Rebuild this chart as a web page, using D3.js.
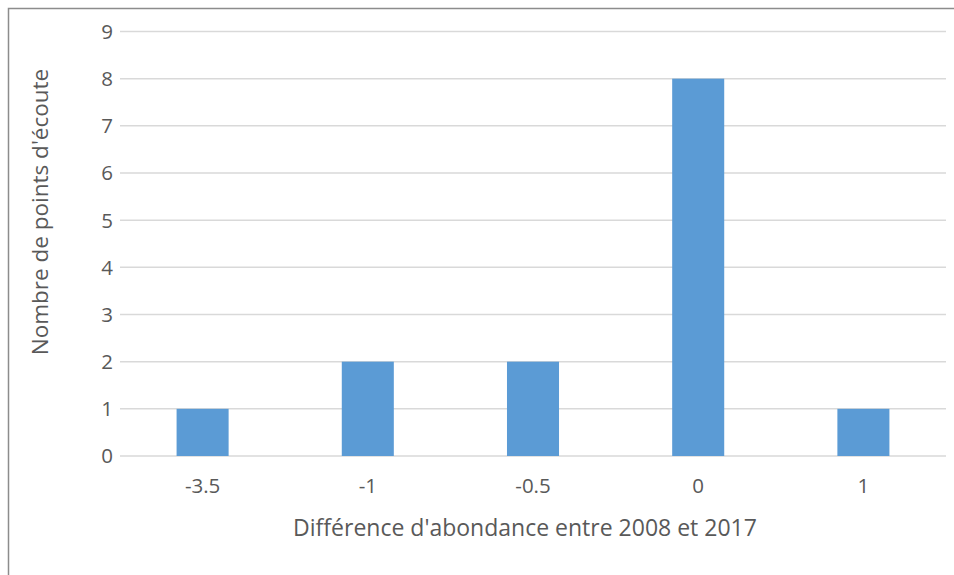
<!DOCTYPE html>
<html><head><meta charset="utf-8">
<script src="https://cdn.jsdelivr.net/npm/d3@7"></script>
<style>body{margin:0;background:#fff;}svg{display:block;}</style>
</head><body>
<script>
const categories = ["-3.5","-1","-0.5","0","1"];
const values = [1,2,2,8,1];
const yTicks = [0,1,2,3,4,5,6,7,8,9];
const xTitle = "Différence d'abondance entre 2008 et 2017";
const yTitle = "Nombre de points d'écoute";

const W=954,H=575;
const svg=d3.select("body").append("svg").attr("width",W).attr("height",H);
svg.append("rect").attr("x",8.5).attr("y",8.5).attr("width",W+10).attr("height",H+10)
  .attr("fill","#fff").attr("stroke","#8c8c8c").attr("stroke-width",1.5);
const m={l:120,r:946,t:31.5,b:456};
const x=d3.scaleBand().domain(categories).range([m.l,m.r]).paddingInner(0.685).paddingOuter(0.3425);
const y=d3.scaleLinear().domain([0,9]).range([m.b,m.t]);
const font="'Open Sans', sans-serif";
const g=svg.append("g");
g.selectAll(".grid").data(yTicks).join("line").attr("x1",m.l).attr("x2",m.r)
 .attr("y1",d=>y(d)).attr("y2",d=>y(d)).attr("stroke","#d9d9d9").attr("stroke-width",1.5);
g.selectAll(".bar").data(values).join("rect")
 .attr("x",(d,i)=>x(categories[i])).attr("width",x.bandwidth())
 .attr("y",d=>y(d)).attr("height",d=>y(0)-y(d)).attr("fill","#5b9bd5");
g.selectAll(".yt").data(yTicks).join("text").attr("x",113).attr("y",d=>y(d)).attr("dy","0.36em")
 .attr("text-anchor","end").attr("font-family",font).attr("font-size",20.5).attr("fill","#595959").text(d=>d);
g.selectAll(".xt").data(categories).join("text").attr("x",d=>x(d)+x.bandwidth()/2).attr("y",493)
 .attr("text-anchor","middle").attr("font-family",font).attr("font-size",20.5).attr("fill","#595959").text(d=>d);
svg.append("text").attr("x",525).attr("y",536).attr("text-anchor","middle").attr("font-family",font)
 .attr("font-size",23).attr("fill","#595959").text(xTitle);
svg.append("text").attr("transform","translate(48,212) rotate(-90)").attr("text-anchor","middle")
 .attr("font-family",font).attr("font-size",22.5).attr("fill","#595959").text(yTitle);
</script>
</body></html>
